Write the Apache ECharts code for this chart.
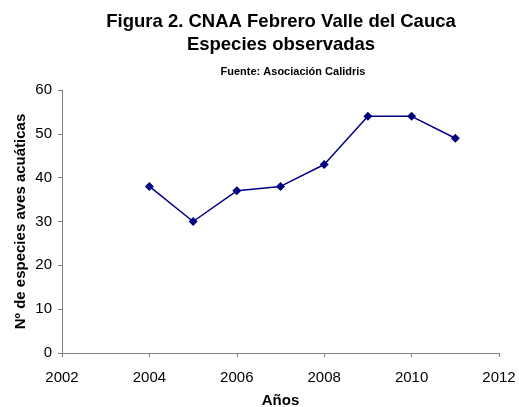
<!DOCTYPE html>
<html>
<head>
<meta charset="utf-8">
<script src="https://cdn.jsdelivr.net/npm/echarts@6/dist/echarts.min.js"></script>
<style>
html,body{margin:0;padding:0;background:#fff;}
#chart{width:519px;height:407px;}
</style>
</head>
<body>
<div id="chart"></div>
<script>
var years = [2004, 2005, 2006, 2007, 2008, 2009, 2010, 2011];
var especies = [38, 30, 37, 38, 43, 54, 54, 49];

var myChart = echarts.init(document.getElementById('chart'));

var font = '"Liberation Sans", Arial, sans-serif';

option = {
    backgroundColor: '#fff',
    animation: false,
    title: [
        {
            text: 'Figura 2. CNAA Febrero Valle del Cauca\nEspecies observadas',
            left: 276,
            top: 5,
            textAlign: 'center',
            textStyle: {
                fontFamily: font,
                fontSize: 18.5,
                fontWeight: 'bold',
                color: '#000',
                lineHeight: 23
            }
        },
        {
            text: 'Fuente: Asociación Calidris',
            left: 288,
            top: 61,
            textAlign: 'center',
            textStyle: {
                fontFamily: font,
                fontSize: 11,
                fontWeight: 'bold',
                color: '#000'
            }
        }
    ],
    grid: {
        left: 62,
        right: 20,
        top: 90,
        bottom: 54,
        containLabel: false,
        outerBoundsMode: 'none'
    },
    xAxis: {
        type: 'value',
        min: 2002,
        max: 2012,
        interval: 2,
        name: 'Años',
        nameLocation: 'middle',
        nameGap: 40,
        nameMoveOverlap: false,
        nameTextStyle: {fontFamily: font, fontSize: 15, fontWeight: 'bold', color: '#000'},
        axisLine: {lineStyle: {color: '#808080', width: 1}},
        axisTick: {show: true, length: 4, lineStyle: {color: '#808080'}},
        axisLabel: {fontFamily: font, fontSize: 15, color: '#000', margin: 17, formatter: function (v) { return String(v); }},
        splitLine: {show: false}
    },
    yAxis: {
        type: 'value',
        min: 0,
        max: 60,
        interval: 10,
        name: 'Nº de especies aves acuáticas',
        nameLocation: 'middle',
        nameGap: 34,
        nameMoveOverlap: false,
        nameTextStyle: {fontFamily: font, fontSize: 15, fontWeight: 'bold', color: '#000'},
        axisLine: {show: true, lineStyle: {color: '#808080', width: 1}},
        axisTick: {show: true, length: 4, lineStyle: {color: '#808080'}},
        axisLabel: {fontFamily: font, fontSize: 15, color: '#000', margin: 10},
        splitLine: {show: false}
    },
    series: [
        {
            name: 'Especies',
            type: 'line',
            data: years.map(function (y, i) { return [y, especies[i]]; }),
            symbol: 'diamond',
            symbolSize: 9,
            itemStyle: {color: '#000080'},
            lineStyle: {color: '#000080', width: 1.5}
        }
    ]
};

myChart.setOption(option);
</script>
</body>
</html>
